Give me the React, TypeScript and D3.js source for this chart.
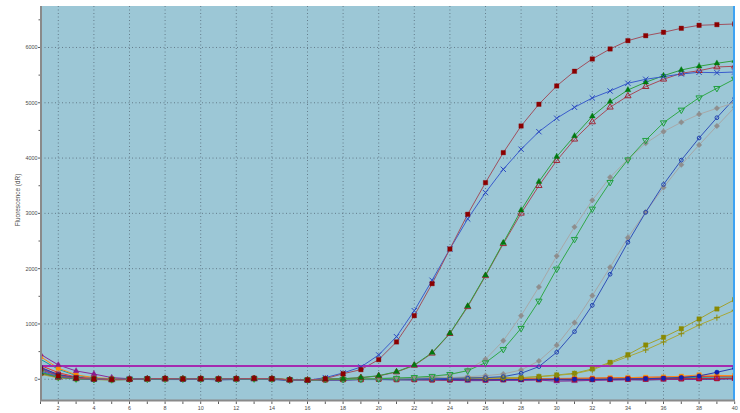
import React from "react";
import * as d3 from "d3";

// Amplification cycles (x axis)
const cycles = [
  1, 2, 3, 4, 5, 6, 7, 8, 9, 10, 11, 12, 13, 14, 15, 16, 17, 18, 19, 20,
  21, 22, 23, 24, 25, 26, 27, 28, 29, 30, 31, 32, 33, 34, 35, 36, 37, 38, 39, 40,
];

const xTickLabels = [2, 4, 6, 8, 10, 12, 14, 16, 18, 20, 22, 24, 26, 28, 30, 32, 34, 36, 38, 40];
const yTickLabels = [0, 1000, 2000, 3000, 4000, 5000, 6000];
const yMinorTicks = [500, 1500, 2500, 3500, 4500, 5500, 6500];

const threshold = 245;

// Fluorescence (dR) per cycle for each well
const redSquares = [180, 60, 20, 5, -5, 0, 10, 15, 5, 10, 5, 10, 15, 10, -10, -15, 10, 100, 174, 355, 675, 1150, 1729, 2356, 2983, 3556, 4098, 4580, 4973, 5304, 5570, 5792, 5973, 6123, 6213, 6275, 6347, 6401, 6413, 6425];
const blueCross = [150, 50, 15, 0, -5, 5, 5, 10, 0, 5, 0, 5, 10, 5, -10, -20, 30, 114, 222, 440, 770, 1240, 1790, 2356, 2900, 3375, 3797, 4160, 4477, 4720, 4918, 5087, 5213, 5353, 5425, 5472, 5521, 5551, 5544, 5557];
const greenTriangle = [120, 40, 10, 0, -5, 0, 5, 10, 5, 5, 0, 5, 10, 5, -10, -15, 0, 10, 30, 65, 137, 258, 481, 832, 1325, 1881, 2470, 3056, 3573, 4025, 4400, 4756, 5020, 5231, 5371, 5490, 5593, 5660, 5714, 5761];
const redOpenTriangle = [110, 35, 10, 0, -5, 0, 5, 5, 5, 5, 0, 5, 10, 5, -10, -15, 0, 10, 28, 60, 130, 250, 470, 825, 1310, 1870, 2450, 3001, 3500, 3953, 4340, 4653, 4919, 5123, 5291, 5425, 5534, 5580, 5647, 5660];
const grayDiamondA = [140, 45, 15, 0, -5, 0, 5, 10, 5, 5, 0, 5, 10, 5, -10, -15, 0, 0, 5, 10, 20, 30, 45, 77, 168, 362, 698, 1150, 1669, 2230, 2754, 3237, 3653, 3978, 4268, 4478, 4647, 4792, 4900, 5002];
const greenOpenInvTriangle = [130, 40, 10, 0, -5, 0, 5, 5, 5, 5, 0, 5, 10, 5, -10, -15, 0, 0, 5, 10, 20, 35, 55, 90, 155, 300, 542, 922, 1416, 1995, 2532, 3080, 3562, 3970, 4322, 4640, 4870, 5092, 5262, 5430];
const grayDiamondB = [160, 55, 15, 0, -5, 0, 5, 10, 5, 5, 0, 5, 10, 5, -10, -15, 0, 0, 5, 5, 10, 15, 20, 30, 45, 65, 96, 168, 331, 615, 1024, 1512, 2025, 2561, 3025, 3468, 3878, 4237, 4580, 4918];
const blueOpenCircle = [190, 70, 20, 5, -5, 0, 5, 5, 5, 5, 0, 5, 10, 5, -15, -20, 0, -5, 0, 0, 5, 5, 10, 15, 20, 30, 47, 108, 228, 488, 861, 1338, 1899, 2478, 3020, 3522, 3963, 4363, 4730, 5081];
const oliveSquares = [100, 30, 5, -5, -10, -5, 0, 5, 5, 5, 0, 5, 10, 5, -10, -15, -5, 0, 5, 5, 10, 10, 15, 15, 20, 25, 28, 30, 50, 78, 108, 186, 307, 445, 620, 759, 915, 1090, 1271, 1440];
const olivePlus = [90, 25, 5, -5, -10, -5, 0, 5, 5, 5, 0, 5, 10, 5, -10, -15, -5, 0, 5, 5, 5, 10, 10, 15, 15, 20, 22, 25, 45, 70, 100, 170, 290, 409, 530, 674, 824, 982, 1114, 1248];
const blueDots = [220, 80, 25, 5, -5, 0, 5, 5, 0, 5, 0, 5, 5, 0, -15, -20, -10, -10, -5, -5, 0, 0, -5, -5, -10, -10, -5, -5, 0, 0, 0, -5, 0, 5, 10, 20, 30, 60, 126, 198];
const orangeSquares = [409, 200, 80, 30, 10, 0, 5, 10, 10, 15, 5, 10, 15, 10, -5, -10, 0, 5, 5, 10, 10, 5, 5, 10, 15, 10, 5, 10, 10, 15, 20, 20, 25, 30, 35, 40, 55, 78, 70, 65];
const redTrace = [250, 120, 40, 10, 0, -5, 0, 5, 5, 5, 0, 5, 10, 5, -10, -15, -5, 0, 0, 5, 5, 0, 0, 5, 5, 5, 0, 5, 5, 10, 15, 20, 25, 30, 35, 40, 45, 50, 55, 60];
const darkRedOpenSquares = [200, 90, 30, 5, -5, 0, 5, 10, 5, 10, 5, 10, 15, 10, -10, -15, -10, -5, -5, 0, -5, -5, -10, -10, -5, -10, -5, 0, -5, 0, -5, 0, 0, 5, 5, 10, 10, 15, 15, 20];
const navyTrace = [170, 70, 20, 0, -10, -5, 0, -5, -5, 0, -10, -5, 0, -5, -15, -20, -10, -10, -5, -5, -10, -10, -5, -10, -10, -5, -10, -10, -5, -10, -15, -10, -5, -5, -10, -5, 0, 0, 5, 10];
const purpleTriangles = [452, 259, 150, 95, 30, 10, 5, 0, 0, 5, 0, 5, 10, 5, -10, -15, -5, -10, -5, 0, -5, -10, -15, -20, -25, -25, -20, -20, -15, -35, -30, -20, -15, -10, -10, -5, 0, 0, 5, 10];
const tealTrace = [362, 180, 70, 20, 5, 0, 5, 5, 5, 5, 0, 5, 10, 5, -10, -15, -5, 0, 0, 5, 5, 5, 5, 10, 10, 5, 5, 10, 10, 10, 15, 15, 20, 20, 25, 25, 30, 35, 40, 45];
const darkGreenTrace = [150, 60, 20, 0, -5, 0, 5, 5, 5, 5, 0, 10, 15, 10, -5, -10, 0, 5, 10, 15, 20, 20, 25, 20, 25, 20, 15, 15, 10, 5, 5, 5, 0, 5, 5, 10, 10, 15, 15, 20];

type Marker = "square" | "openSquare" | "triangle" | "openTriangle" | "openInvTriangle" | "cross" | "openCircle" | "diamond" | "plus" | "dot" | "none";

interface Trace {
  values: number[];
  line: string;
  marker: Marker;
  fill: string;
}

// Drawn back to front: flat negative wells first, amplifying wells on top
const traces: Trace[] = [
  { values: darkGreenTrace, line: "#2e7d32", marker: "none", fill: "#1b5e20" },
  { values: tealTrace, line: "#1a9a9a", marker: "none", fill: "#008080" },
  { values: navyTrace, line: "#1a1a80", marker: "none", fill: "#000080" },
  { values: redTrace, line: "#e03a2a", marker: "none", fill: "#e02020" },
  { values: orangeSquares, line: "#ff8a1a", marker: "square", fill: "#ff8c00" },
  { values: purpleTriangles, line: "#8a2a9a", marker: "triangle", fill: "#8b1a8b" },
  { values: darkRedOpenSquares, line: "#b03040", marker: "openSquare", fill: "#b01020" },
  { values: blueDots, line: "#2a3ab0", marker: "dot", fill: "#1020b0" },
  { values: oliveSquares, line: "#a0a030", marker: "square", fill: "#8a8a00" },
  { values: olivePlus, line: "#a8a838", marker: "plus", fill: "#8a8a10" },
  { values: grayDiamondB, line: "#a6a6a6", marker: "diamond", fill: "#8e8e8e" },
  { values: blueOpenCircle, line: "#3050b8", marker: "openCircle", fill: "#2040b0" },
  { values: grayDiamondA, line: "#a8a8a8", marker: "diamond", fill: "#8e8e8e" },
  { values: greenOpenInvTriangle, line: "#30a848", marker: "openInvTriangle", fill: "#20a040" },
  { values: redOpenTriangle, line: "#a84a58", marker: "openTriangle", fill: "#a02838" },
  { values: greenTriangle, line: "#30a040", marker: "triangle", fill: "#007a10" },
  { values: blueCross, line: "#3a5ccc", marker: "cross", fill: "#2a48c0" },
  { values: redSquares, line: "#a0505e", marker: "square", fill: "#8b0000" },
];

const W = 740;
const H = 413;
const plot = { left: 41, right: 735, top: 6, bottom: 400 };

const x = d3.scaleLinear().domain([1, 40]).range([40.5, 734.7]);
const y = d3.scaleLinear().domain([-375, 6750]).range([plot.bottom, plot.top]);

const symbolPath = (m: Marker): string => {
  switch (m) {
    case "square":
    case "openSquare":
      return d3.symbol(d3.symbolSquare, 20)() as string;
    case "triangle":
      return d3.symbol(d3.symbolTriangle, 15)() as string;
    case "openTriangle":
    case "openInvTriangle":
      return d3.symbol(d3.symbolTriangle, 17)() as string;
    case "cross":
      return d3.symbol(d3.symbolX, 20)() as string;
    case "openCircle":
      return d3.symbol(d3.symbolCircle, 11)() as string;
    case "diamond":
      return d3.symbol(d3.symbolDiamond2, 20)() as string;
    case "plus":
      return d3.symbol(d3.symbolPlus, 14)() as string;
    case "dot":
      return d3.symbol(d3.symbolCircle, 16)() as string;
    default:
      return "";
  }
};

const MarkerMark = ({ m, cx, cy, color }: { m: Marker; cx: number; cy: number; color: string }) => {
  if (m === "none") return null;
  const d = symbolPath(m);
  const open = m === "openSquare" || m === "openTriangle" || m === "openInvTriangle" || m === "openCircle";
  const strokeOnly = m === "cross" || m === "plus";
  const rot = m === "openInvTriangle" ? " rotate(180)" : "";
  return (
    <path
      d={d}
      transform={`translate(${cx},${cy})${rot}`}
      fill={open || strokeOnly ? "none" : color}
      stroke={color}
      strokeWidth={open || strokeOnly ? 1 : 0.6}
      strokeOpacity={open || strokeOnly ? 1 : 0.55}
    />
  );
};

export default function App() {
  const line = d3
    .line<number>()
    .x((_, i) => x(cycles[i]))
    .y((v) => y(v));

  const font = "'Liberation Sans', Arial, sans-serif";
  // snap the threshold to the pixel grid so it stays a crisp 2px band
  const yThr = Math.round(y(threshold));

  return (
    <svg
      width={W}
      height={H}
      viewBox={`0 0 ${W} ${H}`}
      style={{ position: "absolute", left: 0, top: 0, background: "#ffffff" }}
    >
      <defs>
        <clipPath id="plotClip">
          <rect x={plot.left} y={plot.top} width={plot.right - plot.left} height={plot.bottom - plot.top} />
        </clipPath>
      </defs>

      {/* plot background */}
      <rect
        x={plot.left}
        y={plot.top}
        width={plot.right - plot.left}
        height={plot.bottom - plot.top}
        fill="#9cc7d6"
      />

      {/* dotted grid */}
      <g stroke="#5d7482" strokeWidth={0.9} strokeDasharray="1 2.5">
        {xTickLabels.slice(0, -1).map((c) => (
          <line key={`gx${c}`} x1={x(c)} x2={x(c)} y1={plot.top} y2={plot.bottom} />
        ))}
        {yTickLabels.map((v) => (
          <line key={`gy${v}`} x1={plot.left} x2={plot.right} y1={y(v)} y2={y(v)} />
        ))}
      </g>

      {/* amplification traces */}
      <g clipPath="url(#plotClip)">
        {traces.map((t, k) => (
          <path key={`l${k}`} d={line(t.values) as string} fill="none" stroke={t.line} strokeWidth={1} />
        ))}

        {/* threshold */}
        <line
          x1={plot.left}
          x2={plot.right}
          y1={yThr}
          y2={yThr}
          stroke="#a52ab0"
          strokeWidth={2}
          shapeRendering="crispEdges"
        />

        {traces.map((t, k) => (
          <g key={`m${k}`}>
            {t.values.map((v, i) => (
              <MarkerMark key={i} m={t.marker} cx={x(cycles[i])} cy={y(v)} color={t.fill} />
            ))}
          </g>
        ))}
      </g>

      {/* right edge cursor */}
      <line x1={734} x2={734} y1={plot.top} y2={plot.bottom} stroke="#3da2f2" strokeWidth={2} shapeRendering="crispEdges" />

      {/* y axis */}
      <line x1={41} x2={41} y1={plot.top} y2={plot.bottom + 1} stroke="#8a8a8a" strokeWidth={2} />
      <g stroke="#333" strokeWidth={0.8}>
        {yTickLabels.map((v) => (
          <line key={`yt${v}`} x1={38} x2={40} y1={y(v)} y2={y(v)} />
        ))}
        {yMinorTicks.map((v) => (
          <line key={`ym${v}`} x1={38.5} x2={40} y1={y(v)} y2={y(v)} />
        ))}
      </g>
      <g fontFamily={font} fontSize={5.4} fill="#4a4a4a" textAnchor="end">
        {yTickLabels.map((v) => (
          <text key={`yl${v}`} x={37.5} y={y(v) + 1.9}>
            {v}
          </text>
        ))}
      </g>
      <text
        transform={`translate(19.5,200) rotate(-90)`}
        fontFamily={font}
        fontSize={6.4}
        fill="#4a4a4a"
        textAnchor="middle"
      >
        Fluorescence (dR)
      </text>

      {/* x axis */}
      <line x1={plot.left - 1} x2={plot.right} y1={plot.bottom + 0.5} y2={plot.bottom + 0.5} stroke="#8a8a8a" strokeWidth={2} />
      <g stroke="#333" strokeWidth={0.8}>
        {cycles.map((c) => (
          <line key={`xt${c}`} x1={x(c)} x2={x(c)} y1={plot.bottom + 1.5} y2={plot.bottom + 4} />
        ))}
      </g>
      <g fontFamily={font} fontSize={5.4} fill="#4a4a4a" textAnchor="middle">
        {xTickLabels.map((c) => (
          <text key={`xl${c}`} x={x(c)} y={409.5}>
            {c}
          </text>
        ))}
      </g>
    </svg>
  );
}
